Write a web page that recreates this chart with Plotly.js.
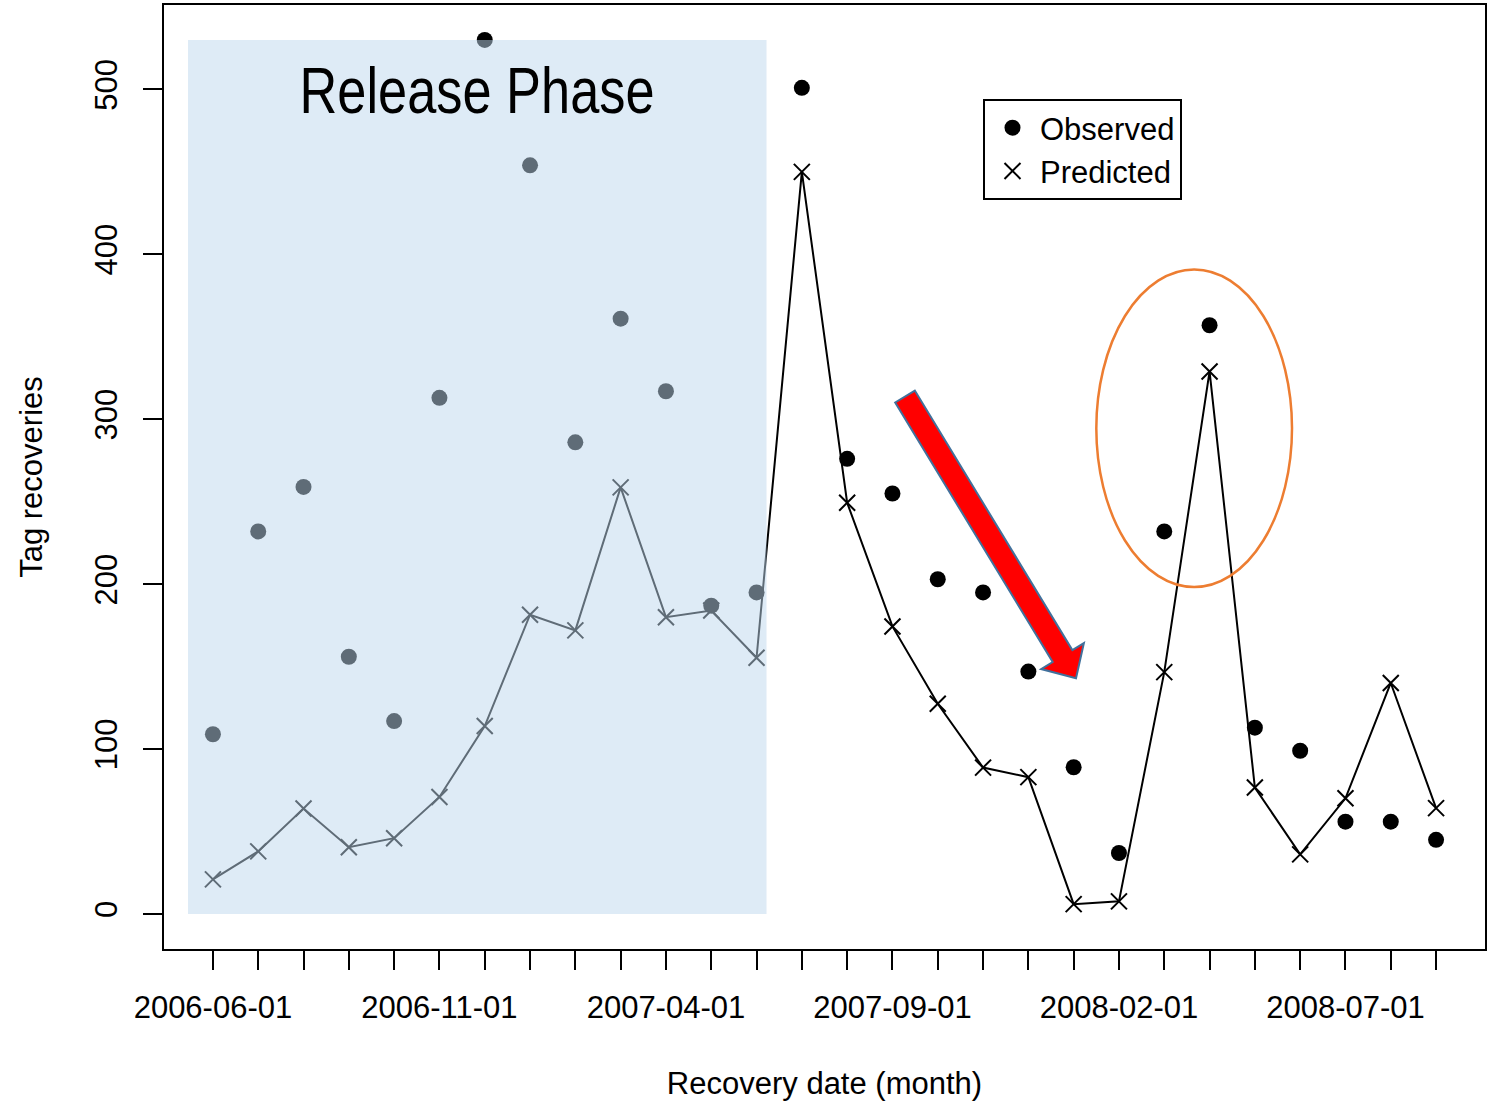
<!DOCTYPE html>
<html>
<head>
<meta charset="utf-8">
<script src="https://cdn.plot.ly/plotly-3.0.1.min.js"></script>
<style>
  html, body { margin: 0; padding: 0; background: #ffffff; }
  #chart { width: 1498px; height: 1101px; }
</style>
</head>
<body>
<div id="chart"></div>
<script>
// Monthly tag recoveries: observed counts and model predictions
const months = [
  '2006-06-01', '2006-07-01', '2006-08-01', '2006-09-01', '2006-10-01', '2006-11-01',
  '2006-12-01', '2007-01-01', '2007-02-01', '2007-03-01', '2007-04-01', '2007-05-01',
  '2007-06-01', '2007-07-01', '2007-08-01', '2007-09-01', '2007-10-01', '2007-11-01',
  '2007-12-01', '2008-01-01', '2008-02-01', '2008-03-01', '2008-04-01', '2008-05-01',
  '2008-06-01', '2008-07-01', '2008-08-01', '2008-09-01'
];
const observed = [
  109, 232, 259, 156, 117, 313, 530, 454, 286, 361, 317, 187, 195, 501,
  276, 255, 203, 195, 147, 89, 37, 232, 357, 113, 99, 56, 56, 45
];
const predicted = [
  21, 38, 64, 40.5, 46, 71, 114, 181.5, 172, 258.7, 180, 184, 155.4, 450,
  249.4, 174.4, 127.5, 88.8, 83, 6, 7.7, 146.7, 329, 76.7, 36.2, 70.2, 140.1, 64.2
];
// Tick labels every fifth month
const labelledMonths = ['2006-06-01', '2006-11-01', '2007-04-01', '2007-09-01', '2008-02-01', '2008-07-01'];
const seriesNames = ['Observed', 'Predicted'];
const phaseLabel = 'Release Phase';

const W = 1498, H = 1101;
const M = { l: 164, r: 13, t: 5, b: 152 };
const PW = W - M.l - M.r, PH = H - M.t - M.b;

const xIdx = months.map((_, i) => i);
const tickText = months.map(m => labelledMonths.includes(m) ? m : '');

// R-style 4% padding around the data range
const xPad = 0.04 * (months.length - 1);
const yMax = Math.max(...observed);
const yPad = 0.04 * yMax;

const FONT = 'Liberation Sans, Arial, sans-serif';

// pixel -> paper helper for the hand-drawn callout arrow
const toPaper = (px, py) => [(px - M.l) / PW, (H - M.b - py) / PH];

function arrowPath(tail, tip, shaftHalf, headHalf, headLen) {
  const dx = tip[0] - tail[0], dy = tip[1] - tail[1];
  const len = Math.hypot(dx, dy);
  const ux = dx / len, uy = dy / len;
  const nx = -uy, ny = ux;
  const bx = tip[0] - ux * headLen, by = tip[1] - uy * headLen;
  const pts = [
    [tail[0] + nx * shaftHalf, tail[1] + ny * shaftHalf],
    [bx + nx * shaftHalf, by + ny * shaftHalf],
    [bx + nx * headHalf, by + ny * headHalf],
    tip,
    [bx - nx * headHalf, by - ny * headHalf],
    [bx - nx * shaftHalf, by - ny * shaftHalf],
    [tail[0] - nx * shaftHalf, tail[1] - ny * shaftHalf]
  ].map(p => toPaper(p[0], p[1]));
  return 'M' + pts.map(p => p[0].toFixed(5) + ',' + p[1].toFixed(5)).join(' L') + ' Z';
}

const traces = [
  {
    x: xIdx, y: predicted, type: 'scatter', mode: 'lines',
    line: { color: '#000000', width: 2 },
    showlegend: false, hoverinfo: 'skip'
  },
  {
    x: xIdx, y: observed, type: 'scatter', mode: 'markers', name: seriesNames[0],
    marker: { symbol: 'circle', size: 16, color: '#000000' }
  },
  {
    x: xIdx, y: predicted, type: 'scatter', mode: 'markers', name: seriesNames[1],
    marker: { symbol: 'x-thin-open', size: 16, color: '#000000', line: { color: '#000000', width: 2 } }
  }
];

const layout = {
  width: W, height: H,
  margin: M,
  paper_bgcolor: '#ffffff', plot_bgcolor: '#ffffff',
  font: { family: FONT, size: 31, color: '#000000' },
  showlegend: true,
  legend: {
    x: (983 - M.l) / PW, y: (H - M.b - 99) / PH, xanchor: 'left', yanchor: 'top',
    bgcolor: '#ffffff', bordercolor: '#000000', borderwidth: 2,
    font: { family: FONT, size: 31, color: '#000000' },
    itemsizing: 'trace', itemwidth: 45
  },
  xaxis: {
    range: [-xPad, months.length - 1 + xPad],
    tickmode: 'array', tickvals: xIdx, ticktext: tickText,
    ticks: 'outside', ticklen: 19, tickwidth: 2, tickcolor: '#000000',
    ticklabelstandoff: 11,
    showline: true, linewidth: 2, linecolor: '#000000', mirror: true,
    showgrid: false, zeroline: false,
    tickfont: { family: FONT, size: 31, color: '#000000' },
    title: { text: 'Recovery date (month)', standoff: 59, font: { family: FONT, size: 31, color: '#000000' } }
  },
  yaxis: {
    range: [-yPad, yMax + yPad],
    tickmode: 'array', tickvals: [0, 100, 200, 300, 400, 500],
    ticks: 'outside', ticklen: 19, tickwidth: 2, tickcolor: '#000000',
    tickangle: -90, ticklabelstandoff: 14,
    showline: true, linewidth: 2, linecolor: '#000000', mirror: true,
    showgrid: false, zeroline: false,
    tickfont: { family: FONT, size: 31, color: '#000000' },
    title: { text: 'Tag recoveries', standoff: 37, font: { family: FONT, size: 31, color: '#000000' } }
  },
  shapes: [
    // translucent band marking the release phase, laid over the points
    {
      type: 'rect', xref: 'x', yref: 'y', layer: 'above',
      x0: -0.55, x1: 12.22, y0: 0, y1: yMax,
      fillcolor: 'rgb(189,215,238)', opacity: 0.5, line: { width: 0 }
    },
    // highlight around the 2008 spike
    {
      type: 'circle', xref: 'x', yref: 'y', layer: 'above',
      x0: 19.5, x1: 23.82, y0: 198.3, y1: 390.8,
      line: { color: '#ED7D31', width: 2.5 }, fillcolor: 'rgba(0,0,0,0)'
    },
    // red callout arrow showing the declining trend
    {
      type: 'path', xref: 'paper', yref: 'paper', layer: 'above',
      path: arrowPath([905, 396.5], [1076, 678.3], 11.5, 25, 26),
      fillcolor: '#FF0000', line: { color: '#41719C', width: 2 }
    }
  ],
  annotations: [
    {
      text: phaseLabel, xref: 'x', yref: 'paper',
      x: 5.82, y: (H - M.b - 91) / PH, xanchor: 'center', yanchor: 'middle',
      showarrow: false,
      font: { family: FONT, size: 64, color: '#000000' }
    }
  ]
};

Plotly.newPlot('chart', traces, layout, { displayModeBar: false, staticPlot: true }).then(gd => {
  // the phase label is set in a narrow face: squeeze the glyphs horizontally
  gd.querySelectorAll('.annotation-text').forEach(t => {
    if (t.textContent === phaseLabel) {
      t.setAttribute('textLength', '355');
      t.setAttribute('lengthAdjust', 'spacingAndGlyphs');
    }
  });
});
</script>
</body>
</html>
